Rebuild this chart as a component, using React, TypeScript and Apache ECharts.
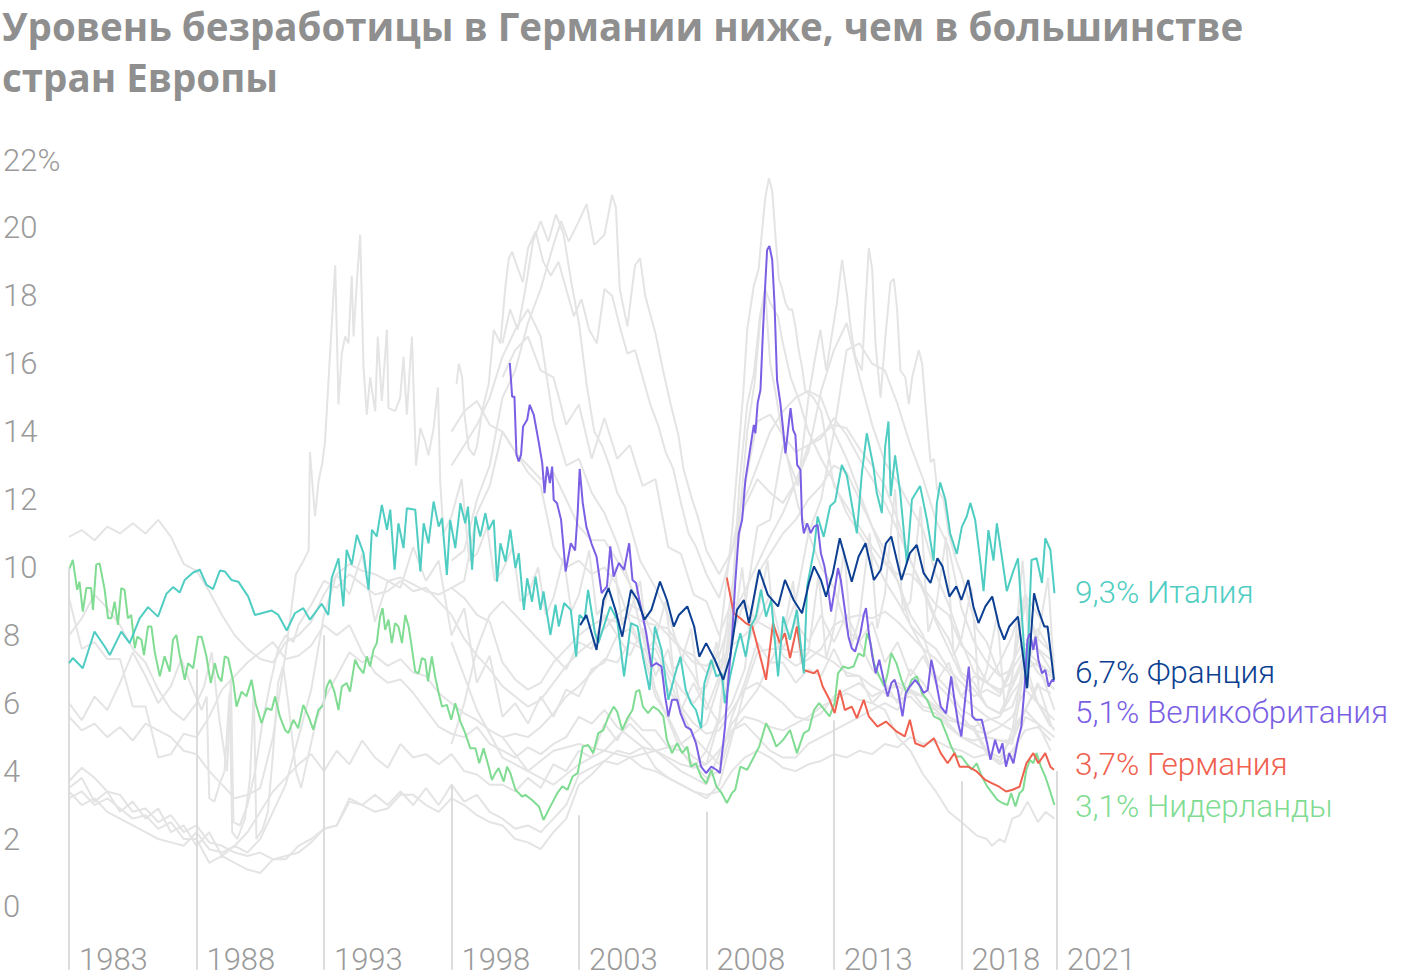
import React, { useEffect, useRef } from 'react';
import * as echarts from 'echarts';

type Pt = [number, number];

const titleLine1 = 'Уровень безработицы в Германии ниже, чем в большинстве';
const titleLine2 = 'стран Европы';
const xTickYears = [1983, 1988, 1993, 1998, 2003, 2008, 2013, 2018, 2021.75];
const xTickLabels = ['1983', '1988', '1993', '1998', '2003', '2008', '2013', '2018', '2021'];
const tickLineTops = [10.0, 7.0, 8.0, 3.6, 2.7, 2.8, 5.5, 3.7, 4.0];
const yMin = -2;
const yMax = 22;

const italy: Pt[] = [[1983.0,7.18],[1983.15,7.33],[1983.54,7.03],[1984.0,8.11],[1984.4,7.67],[1984.6,7.42],[1985.05,8.11],[1985.38,7.77],[1985.77,8.5],[1986.1,8.83],[1986.49,8.55],[1986.82,9.22],[1987.08,9.42],[1987.34,9.26],[1987.54,9.63],[1987.87,9.85],[1988.13,9.93],[1988.39,9.49],[1988.65,9.36],[1988.92,9.91],[1989.11,9.88],[1989.37,9.63],[1989.64,9.58],[1990.03,9.14],[1990.29,8.6],[1990.55,8.65],[1990.95,8.73],[1991.21,8.6],[1991.54,8.14],[1991.86,8.65],[1992.19,8.8],[1992.45,8.46],[1992.91,8.93],[1993.17,8.6],[1993.3,9.68],[1993.57,10.27],[1993.76,8.85],[1993.89,10.52],[1994.09,10.08],[1994.29,10.96],[1994.55,10.42],[1994.75,9.34],[1994.88,11.11],[1995.07,10.91],[1995.27,11.84],[1995.47,11.11],[1995.6,11.7],[1995.77,9.93],[1995.92,11.3],[1996.12,10.57],[1996.25,11.74],[1996.58,11.7],[1996.78,9.88],[1996.91,11.3],[1997.1,10.71],[1997.3,11.94],[1997.5,11.2],[1997.63,11.45],[1997.82,9.78],[1997.95,11.4],[1998.15,10.57],[1998.35,11.89],[1998.54,11.3],[1998.65,11.79],[1998.81,9.93],[1998.94,11.5],[1999.13,10.91],[1999.33,11.6],[1999.46,11.11],[1999.66,11.4],[1999.79,9.58],[1999.92,10.71],[2000.12,10.17],[2000.31,11.11],[2000.51,9.98],[2000.64,10.42],[2000.84,8.75],[2000.97,9.68],[2001.16,8.99],[2001.3,9.73],[2001.49,8.75],[2001.61,9.29],[2001.88,8.01],[2002.08,8.9],[2002.21,8.26],[2002.42,8.95],[2002.68,8.75],[2002.89,7.37],[2003.02,8.6],[2003.22,8.46],[2003.36,9.34],[2003.63,8.06],[2003.76,7.77],[2004.23,8.85],[2004.5,8.46],[2004.77,6.79],[2005.04,8.36],[2005.3,8.26],[2005.51,7.37],[2005.77,6.39],[2005.98,8.26],[2006.24,7.57],[2006.51,6.1],[2006.78,6.88],[2006.98,7.37],[2007.19,6.39],[2007.39,6.0],[2007.59,5.8],[2007.79,5.26],[2007.92,6.59],[2008.19,7.28],[2008.39,6.79],[2008.6,6.88],[2008.73,6.0],[2008.93,6.79],[2009.13,7.47],[2009.33,8.06],[2009.54,7.37],[2009.74,8.26],[2009.94,8.55],[2010.14,9.34],[2010.34,8.55],[2010.54,9.04],[2010.81,6.79],[2011.01,8.55],[2011.28,7.87],[2011.55,8.75],[2011.82,6.88],[2011.95,9.44],[2012.22,10.52],[2012.36,11.5],[2012.6,10.9],[2012.85,11.8],[2013.05,11.94],[2013.31,13.02],[2013.51,12.7],[2013.9,11.0],[2014.1,12.8],[2014.29,13.95],[2014.55,12.97],[2014.68,12.2],[2014.88,11.6],[2015.01,13.56],[2015.14,14.3],[2015.23,12.1],[2015.4,13.3],[2015.6,12.2],[2015.86,10.12],[2016.06,12.0],[2016.38,12.4],[2016.65,11.4],[2016.91,10.2],[2017.04,11.9],[2017.17,12.5],[2017.37,12.0],[2017.56,11.0],[2017.82,10.4],[2018.02,11.2],[2018.21,11.5],[2018.35,11.9],[2018.54,11.4],[2018.74,10.2],[2018.87,9.3],[2019.06,11.1],[2019.26,10.2],[2019.39,11.3],[2019.59,10.3],[2019.78,9.3],[2020.04,9.9],[2020.22,10.27],[2020.42,8.06],[2020.55,6.44],[2020.75,10.22],[2020.95,10.27],[2021.16,9.54],[2021.29,10.86],[2021.49,10.52],[2021.65,9.24]];

const france: Pt[] = [[2003.05,8.3],[2003.29,8.6],[2003.69,7.57],[2003.96,9.04],[2004.16,9.39],[2004.43,8.75],[2004.7,7.96],[2005.04,9.34],[2005.3,9.04],[2005.57,8.46],[2005.84,8.75],[2006.18,9.58],[2006.45,9.04],[2006.72,8.26],[2006.92,8.6],[2007.25,8.85],[2007.52,8.26],[2007.72,7.37],[2007.99,7.77],[2008.33,7.28],[2008.66,6.69],[2008.93,7.37],[2009.2,8.75],[2009.47,9.04],[2009.67,8.36],[2010.07,9.93],[2010.41,9.19],[2010.81,8.85],[2011.08,9.63],[2011.42,9.04],[2011.75,8.65],[2012.02,9.54],[2012.22,10.03],[2012.49,9.63],[2012.69,9.14],[2012.96,9.83],[2013.23,10.86],[2013.43,10.32],[2013.7,9.58],[2013.97,10.32],[2014.24,10.71],[2014.57,9.63],[2014.84,9.93],[2015.04,10.71],[2015.25,10.91],[2015.65,9.63],[2015.98,10.42],[2016.25,10.66],[2016.52,9.83],[2016.79,9.54],[2017.06,10.27],[2017.26,10.03],[2017.53,9.14],[2017.8,9.44],[2018.0,9.04],[2018.27,9.63],[2018.47,8.85],[2018.67,8.36],[2018.94,8.85],[2019.21,9.14],[2019.48,8.26],[2019.68,7.87],[2019.88,8.26],[2020.22,8.55],[2020.42,7.37],[2020.58,6.44],[2020.85,9.24],[2021.02,8.75],[2021.25,8.26],[2021.38,8.26],[2021.63,6.69]];

const uk: Pt[] = [[2000.29,16.02],[2000.38,15.03],[2000.47,15.03],[2000.55,13.32],[2000.64,13.12],[2000.73,13.32],[2000.81,14.15],[2000.97,14.35],[2001.07,14.79],[2001.23,14.49],[2001.43,13.66],[2001.56,13.07],[2001.65,12.19],[2001.75,12.97],[2001.86,12.48],[2001.95,12.97],[2002.01,11.99],[2002.14,11.89],[2002.3,11.4],[2002.48,9.88],[2002.68,10.71],[2002.85,10.5],[2002.95,11.6],[2003.03,12.9],[2003.15,11.9],[2003.29,11.2],[2003.49,10.71],[2003.69,10.32],[2003.89,9.24],[2004.1,9.44],[2004.23,10.62],[2004.36,9.73],[2004.57,10.13],[2004.77,9.93],[2004.97,10.71],[2005.1,9.63],[2005.24,9.54],[2005.37,9.04],[2005.64,8.06],[2005.84,7.08],[2006.04,7.18],[2006.24,7.08],[2006.38,6.2],[2006.51,5.61],[2006.65,6.1],[2006.85,6.1],[2006.98,5.71],[2007.19,5.31],[2007.39,5.22],[2007.59,4.82],[2007.79,4.13],[2007.99,3.94],[2008.19,4.13],[2008.39,4.04],[2008.53,3.94],[2008.73,5.31],[2008.86,6.69],[2009.0,7.87],[2009.13,9.54],[2009.27,11.0],[2009.4,11.4],[2009.53,12.58],[2009.62,13.02],[2009.79,13.86],[2009.86,14.2],[2009.92,13.95],[2010.01,14.84],[2010.12,15.23],[2010.22,17.0],[2010.31,18.37],[2010.38,19.35],[2010.47,19.47],[2010.58,19.06],[2010.67,17.78],[2010.77,15.52],[2010.9,14.84],[2011.01,14.05],[2011.1,13.36],[2011.23,14.25],[2011.3,14.69],[2011.4,14.05],[2011.49,13.9],[2011.56,13.02],[2011.69,12.87],[2011.75,11.4],[2011.82,11.0],[2011.95,11.3],[2012.09,11.01],[2012.22,11.2],[2012.36,11.25],[2012.49,10.42],[2012.63,10.03],[2012.76,9.44],[2012.89,8.7],[2013.03,9.34],[2013.16,9.98],[2013.27,9.63],[2013.43,8.75],[2013.57,7.96],[2013.7,7.62],[2013.83,7.52],[2014.04,8.06],[2014.17,8.6],[2014.26,8.8],[2014.37,8.06],[2014.51,7.37],[2014.64,6.88],[2014.78,7.28],[2014.98,6.59],[2015.11,6.2],[2015.25,6.59],[2015.38,6.69],[2015.51,6.39],[2015.69,5.61],[2015.82,6.3],[2015.98,6.49],[2016.19,6.69],[2016.39,6.49],[2016.52,6.3],[2016.68,6.39],[2016.82,7.28],[2016.99,6.69],[2017.19,5.9],[2017.4,5.7],[2017.6,6.79],[2017.73,6.1],[2017.87,5.41],[2018.0,5.02],[2018.16,6.2],[2018.29,7.08],[2018.43,5.61],[2018.56,5.51],[2018.8,5.51],[2019.01,4.82],[2019.14,4.33],[2019.32,4.92],[2019.48,4.53],[2019.61,4.82],[2019.75,4.13],[2019.88,4.53],[2020.04,4.23],[2020.22,4.92],[2020.35,5.31],[2020.48,6.49],[2020.59,7.87],[2020.69,8.06],[2020.82,7.57],[2020.91,7.96],[2021.02,7.28],[2021.16,6.88],[2021.29,6.98],[2021.42,6.49],[2021.56,6.69],[2021.65,6.64]];

const germany: Pt[] = [[2008.8,9.7],[2009.07,8.65],[2009.33,8.5],[2009.54,8.36],[2009.8,8.26],[2010.01,7.67],[2010.34,6.69],[2010.61,8.36],[2010.88,7.77],[2011.08,8.06],[2011.28,7.33],[2011.55,8.26],[2011.82,6.98],[2012.22,6.88],[2012.36,6.98],[2012.56,6.49],[2012.83,6.1],[2013.03,5.71],[2013.23,6.39],[2013.43,5.8],[2013.7,5.9],[2013.9,5.56],[2014.17,6.1],[2014.37,5.61],[2014.71,5.31],[2015.04,5.46],[2015.45,5.17],[2015.78,5.02],[2015.98,5.51],[2016.19,4.82],[2016.52,4.72],[2016.92,4.97],[2017.19,4.53],[2017.46,4.23],[2017.73,4.53],[2017.93,4.13],[2018.27,4.13],[2018.6,3.99],[2018.94,3.74],[2019.21,3.64],[2019.48,3.54],[2019.75,3.4],[2020.01,3.45],[2020.28,3.54],[2020.55,4.23],[2020.82,4.53],[2021.02,4.23],[2021.29,4.53],[2021.49,4.13],[2021.63,4.04]];

const netherlands: Pt[] = [[1983.0,9.93],[1983.15,10.22],[1983.32,9.34],[1983.41,9.58],[1983.54,8.7],[1983.68,9.39],[1983.87,9.39],[1983.94,8.75],[1984.07,10.08],[1984.2,10.12],[1984.4,9.34],[1984.53,8.5],[1984.66,8.5],[1984.79,8.99],[1984.92,8.31],[1985.05,9.39],[1985.18,9.34],[1985.31,8.5],[1985.44,8.6],[1985.58,7.62],[1985.68,7.96],[1985.84,7.87],[1985.94,7.42],[1986.1,8.26],[1986.23,8.26],[1986.36,7.52],[1986.56,6.79],[1986.75,7.38],[1986.95,6.93],[1987.08,7.87],[1987.21,8.01],[1987.34,7.42],[1987.54,6.69],[1987.67,7.18],[1987.87,7.03],[1988.06,7.96],[1988.2,7.96],[1988.39,7.38],[1988.56,6.59],[1988.72,7.18],[1988.85,6.79],[1988.98,6.64],[1989.11,7.38],[1989.24,7.33],[1989.44,6.64],[1989.57,5.9],[1989.77,6.34],[1989.96,6.2],[1990.16,6.69],[1990.32,6.0],[1990.55,5.41],[1990.75,5.85],[1990.95,5.8],[1991.08,6.2],[1991.27,5.61],[1991.47,5.22],[1991.6,5.12],[1991.8,5.51],[1991.99,5.26],[1992.19,5.95],[1992.39,5.61],[1992.58,5.22],[1992.78,5.8],[1992.98,5.95],[1993.11,6.49],[1993.24,6.69],[1993.41,6.34],[1993.57,5.8],[1993.7,6.49],[1993.89,6.59],[1994.02,6.34],[1994.22,7.28],[1994.35,7.08],[1994.55,6.88],[1994.68,7.38],[1994.81,7.08],[1994.94,7.57],[1995.07,7.77],[1995.2,8.55],[1995.3,8.8],[1995.4,8.16],[1995.53,8.46],[1995.66,7.77],[1995.79,8.36],[1995.92,8.26],[1996.06,7.77],[1996.19,8.6],[1996.32,8.26],[1996.42,7.77],[1996.58,6.93],[1996.71,6.88],[1996.84,7.33],[1996.97,7.28],[1997.08,6.64],[1997.23,7.38],[1997.37,6.74],[1997.5,6.3],[1997.63,5.9],[1997.82,5.95],[1997.99,5.51],[1998.15,6.0],[1998.35,5.46],[1998.54,5.12],[1998.74,4.67],[1998.94,4.67],[1999.09,4.23],[1999.26,4.67],[1999.46,4.13],[1999.59,3.74],[1999.72,3.94],[1999.85,4.09],[2000.05,3.69],[2000.18,4.13],[2000.31,3.94],[2000.51,3.45],[2000.64,3.35],[2000.77,3.25],[2000.9,3.3],[2001.16,3.15],[2001.43,2.96],[2001.61,2.56],[2001.88,2.96],[2002.15,3.35],[2002.35,3.55],[2002.55,3.45],[2002.75,3.84],[2002.95,3.94],[2003.15,4.72],[2003.36,4.77],[2003.56,4.53],[2003.76,5.12],[2003.96,5.21],[2004.16,5.61],[2004.36,5.9],[2004.5,5.75],[2004.7,5.21],[2004.9,5.56],[2005.1,5.8],[2005.24,6.34],[2005.37,6.39],[2005.51,5.9],[2005.71,5.71],[2005.91,5.9],[2006.11,5.8],[2006.31,5.61],[2006.45,4.92],[2006.65,4.53],[2006.85,4.82],[2007.05,4.53],[2007.25,4.72],[2007.39,4.13],[2007.59,4.23],[2007.79,3.84],[2007.99,3.64],[2008.19,4.04],[2008.39,3.55],[2008.6,3.35],[2008.8,3.06],[2009.0,3.35],[2009.13,3.45],[2009.33,4.13],[2009.6,4.04],[2009.87,4.43],[2010.07,4.72],[2010.34,5.41],[2010.54,5.12],[2010.74,4.72],[2011.01,4.92],[2011.28,5.21],[2011.55,4.53],[2011.82,5.12],[2012.02,5.21],[2012.22,5.8],[2012.42,6.0],[2012.63,5.8],[2012.83,5.61],[2013.03,6.0],[2013.16,6.88],[2013.36,7.08],[2013.57,7.03],[2013.77,7.08],[2013.97,7.47],[2014.17,7.38],[2014.3,8.06],[2014.44,7.77],[2014.57,7.18],[2014.78,6.79],[2014.98,6.49],[2015.11,6.88],[2015.25,7.47],[2015.45,7.18],[2015.65,6.69],[2015.85,6.3],[2016.05,6.69],[2016.25,6.79],[2016.45,6.3],[2016.66,6.1],[2016.92,5.61],[2017.19,5.51],[2017.4,5.12],[2017.6,4.72],[2017.8,4.43],[2018.0,4.43],[2018.2,4.23],[2018.4,4.04],[2018.6,4.23],[2018.8,3.84],[2019.01,3.55],[2019.21,3.35],[2019.41,3.15],[2019.61,3.06],[2019.81,3.0],[2019.95,3.35],[2020.12,2.96],[2020.28,3.35],[2020.42,3.45],[2020.55,4.04],[2020.69,4.33],[2020.82,4.23],[2020.95,4.53],[2021.12,4.13],[2021.29,3.84],[2021.42,3.55],[2021.65,3.0]];

// other countries (grey): half-yearly values from a start year, or explicit points
const greyHalfYear: { from: number; values: number[] }[] = [
  { from: 1983, values: [10.9,11.1,10.8,11.2,11.0,11.3,11.0,11.4,10.9,10.1,9.9,9.3,8.6,8.0,7.6,7.3,7.2,7.8,8.0,8.4,9.2,9.8,10.1,9.9,9.8,9.6,9.7,9.5,9.3,9.2,9.4,9.1,8.6,8.4,7.2,6.7,6.4,6.6,7.2,7.6,8.0,8.3,8.5,8.4,8.6,8.4,8.3,8.2,7.6,7.4,6.9,7.2,7.7,8.0,8.4,8.2,7.4,7.1,7.3,7.6,8.3,8.5,8.6,8.5,8.7,8.4,8.0,7.6,7.3,6.9,6.2,5.9,5.6,5.4,5.2,5.8,6.5,6.3] },
  { from: 1983, values: [9.1,7.6,7.8,7.3,7.3,5.9,5.9,4.4,4.5,5.1,5.0,5.6,6.4,6.8,7.2,7.5,7.8,7.3,7.4,7.7,8.3,8.0,8.3,7.5,6.9,6.6,6.7,6.3,5.8,5.3,5.1,5.0,5.3,4.8,4.6,4.4,4.7,4.5,4.8,5.0,5.6,5.4,5.8,5.3,5.0,4.7,4.1,3.8,3.6,3.4,3.2,3.6,5.0,6.4,7.5,7.6,7.6,7.5,7.6,7.4,7.2,6.9,6.8,6.5,6.3,6.1,6.2,5.8,5.7,5.3,5.0,4.9,5.0,4.9,4.9,5.8,5.4,4.6] },
  { from: 1983, values: [3.7,4.1,3.8,3.4,3.3,2.8,2.9,2.5,2.7,2.2,2.4,1.9,1.8,1.6,1.5,1.6,1.4,1.5,1.6,1.9,2.3,2.4,3.1,3.0,2.8,2.9,3.3,3.3,3.0,2.8,3.2,3.0,2.7,2.5,2.4,2.0,1.9,1.7,2.2,2.6,3.6,3.9,4.3,4.6,4.5,4.7,4.6,4.4,4.2,4.1,4.2,4.6,5.2,5.6,5.5,5.3,5.2,5.4,5.6,5.9,6.1,6.3,6.1,6.0,6.4,6.5,6.3,6.2,5.8,5.5,5.4,5.3,5.5,5.6,6.3,6.8,6.0,5.3] },
  { from: 1983, values: [3.2,3.4,3.0,3.2,2.9,2.6,2.7,2.3,2.5,2.0,2.0,1.3,1.5,1.3,1.1,1.0,1.4,1.4,1.8,2.0,2.3,2.4,3.2,3.0,3.3,3.0,3.4,3.0,3.5,3.0,3.6,3.1,3.3,2.8,2.6,2.3,2.4,2.2,2.6,3.0,3.9,4.1,4.3,4.2,4.4,4.1,4.0,3.8,3.6,3.4,3.3,3.4,4.0,4.4,4.6,4.4,4.1,4.0,4.2,4.3,4.5,4.4,4.6,4.5,4.8,4.7,5.0,4.8,4.9,4.7,4.6,4.4,4.5,4.3,4.6,5.2,5.3,4.9] },
  { from: 1983, values: [3.5,3.8,3.1,3.4,2.8,3.1,2.6,2.9,2.2,2.4,1.8,2.2,1.5,1.8,1.6,2.0,2.8,3.6,5.0,6.4,8.6,9.8,9.2,10.4,8.4,9.6,9.4,10.6,9.6,10.2,8.0,8.8,6.6,7.4,5.6,6.0,5.4,6.2,5.6,6.4,6.2,7.0,7.2,8.0,7.4,8.2,6.8,7.6,5.8,6.6,5.8,6.8,8.0,9.0,8.4,9.2,7.6,8.4,7.8,8.6,7.8,8.6,7.8,8.4,7.2,7.8,6.8,7.4,6.6,7.2,6.2,6.8,6.6,7.2,8.0,9.2,8.6,8.0] },
  { from: 1983, values: [3.4,3.0,3.2,2.8,2.6,2.4,2.2,2.0,1.9,1.8,2.2,1.7,1.6,1.8,2.2,2.8,3.4,3.8,4.2,4.5,4.0,4.6,4.2,4.9,4.4,4.1,4.8,4.4,4.5,4.2,4.5,4.0,3.9,3.6,3.6,3.4,3.8,3.5,4.2,4.0,4.6,4.4,5.4,4.9,5.6,5.2,5.2,4.7,4.6,4.2,3.8,4.0,5.2,5.4,5.0,4.6,4.4,4.4,4.8,5.0,5.2,5.4,5.6,5.8,6.0,5.8,6.4,5.9,5.8,5.4,5.0,4.8,4.6,4.4,5.0,5.8,6.6,5.4] },
];

const greyPoints: Pt[][] = [
  [[1983,6.0],[1983.5,5.5],[1984,6.2],[1984.5,5.8],[1985,6.6],[1985.5,7.5],[1986,6.8],[1986.5,6.0],[1987,6.5],[1987.4,7.3],[1987.8,6.5],[1988.2,5.8],[1988.4,6.2],[1988.5,3.2],[1988.7,3.1],[1988.9,3.6],[1989.1,4.0],[1989.3,6.3],[1989.4,2.2],[1989.6,2.0],[1989.9,2.6],[1990.1,3.8],[1990.25,6.4],[1990.35,2.0],[1990.6,2.3],[1990.8,2.8],[1991,4.5],[1991.2,6.6],[1991.4,7.1],[1991.6,6.0],[1991.9,4.0],[1992.1,3.5],[1992.4,4.5],[1992.7,5.5],[1993,6.1],[1993.5,6.8],[1994,7.5],[1994.5,7.2],[1995,7.4],[1995.5,7.1],[1996,7.3],[1996.5,6.9],[1997,6.8],[1997.5,6.3],[1998,6.0],[1998.5,5.7],[1999,5.5],[1999.5,5.2],[2000,5.0],[2000.5,5.1],[2001,5.0],[2001.5,5.3],[2002,5.7],[2002.5,6.2],[2003,6.5],[2003.5,6.9],[2004,7.3],[2004.5,7.2],[2005,7.8],[2005.5,7.6],[2006,7.3],[2006.5,6.4],[2007,5.9],[2007.5,5.4],[2008,5.1],[2008.5,5.2],[2009,5.8],[2009.5,6.4],[2010,6.6],[2010.5,6.3],[2011,6.0],[2011.5,5.6],[2012,5.5],[2012.5,5.7],[2013,6.2],[2013.5,6.4],[2014,6.6],[2014.5,6.2],[2015,6.4],[2015.5,6.6],[2016,6.4],[2016.5,6.2],[2017,5.9],[2017.5,5.6],[2018,5.4],[2018.5,5.2],[2019,5.1],[2019.5,5.3],[2020,5.6],[2020.5,6.4],[2021,6.0],[2021.65,5.5]],
  [[1983,8.0],[1983.5,8.5],[1984,9.2],[1984.5,8.8],[1985,8.3],[1985.5,7.6],[1986,7.2],[1986.5,6.4],[1987,5.8],[1987.5,5.5],[1988,6.0],[1988.3,6.5],[1988.6,7.5],[1988.9,5.5],[1989.2,4.0],[1989.35,6.7],[1989.45,2.5],[1989.7,2.4],[1990,3.0],[1990.3,4.0],[1990.6,5.5],[1990.9,6.6],[1991.2,7.6],[1991.5,8.0],[1991.8,7.8],[1992,8.3],[1992.5,8.9],[1993,9.6],[1993.5,9.4],[1994,9.8],[1994.5,9.5],[1995,9.2],[1995.5,9.3],[1996,9.6],[1996.5,9.3],[1997,9.4],[1997.5,9.0],[1998,8.6],[1998.5,7.9],[1999,7.4],[1999.5,7.0],[2000,6.5],[2000.5,6.2],[2001,5.9],[2001.5,6.1],[2002,6.6],[2002.5,7.1],[2003,7.5],[2003.5,7.8],[2004,8.2],[2004.5,8.6],[2005,8.9],[2005.5,8.7],[2006,8.4],[2006.5,8.0],[2007,7.6],[2007.5,7.2],[2008,7.1],[2008.5,7.4],[2009,8.6],[2009.5,9.3],[2010,10.1],[2010.5,10.9],[2011,11.6],[2011.5,12.5],[2012,13.4],[2012.5,15.2],[2013,16.4],[2013.5,17.2],[2014,15.6],[2014.5,14.2],[2015,13.1],[2015.5,12.5],[2016,11.8],[2016.5,11.1],[2017,9.8],[2017.5,8.9],[2018,7.8],[2018.5,6.9],[2019,6.6],[2019.5,6.4],[2020,6.6],[2020.5,7.5],[2021,6.9],[2021.65,6.4]],
  [[1983,5.6],[1983.5,5.2],[1984,5.4],[1984.5,5.0],[1985,5.3],[1985.5,4.9],[1986,5.4],[1986.5,5.2],[1987,5.0],[1987.5,4.6],[1988,4.5],[1988.5,4.0],[1989,3.6],[1989.5,3.2],[1990,3.3],[1990.5,3.5],[1991,5.0],[1991.5,7.5],[1991.9,9.8],[1992.2,10.2],[1992.4,10.5],[1992.45,13.4],[1992.65,11.5],[1992.78,12.5],[1992.94,13.1],[1993.04,13.7],[1993.17,15.4],[1993.44,18.9],[1993.57,14.8],[1993.7,16.3],[1993.83,16.8],[1993.96,16.6],[1994.09,18.6],[1994.16,16.8],[1994.29,18.4],[1994.42,19.8],[1994.55,15.9],[1994.68,14.5],[1994.81,15.6],[1995.01,14.6],[1995.11,16.8],[1995.27,14.9],[1995.47,17.0],[1995.53,14.7],[1995.79,14.6],[1995.99,15.0],[1996.12,16.2],[1996.25,14.5],[1996.45,16.8],[1996.61,13.0],[1996.78,14.1],[1996.97,13.7],[1997.1,13.3],[1997.3,14.1],[1997.47,15.3],[1997.56,12.5],[1997.69,11.0],[1998,11.5],[1998.4,12.6],[1998.7,10.2],[1999,10.4],[1999.4,11.2],[1999.7,9.6],[2000,9.9],[2000.4,10.6],[2000.7,9.0],[2001,9.2],[2001.4,10.0],[2001.7,8.6],[2002,9.1],[2002.4,10.3],[2002.7,8.7],[2003,9.2],[2003.4,10.5],[2003.7,8.6],[2004,8.9],[2004.4,10.0],[2004.7,8.3],[2005,8.7],[2005.4,9.6],[2005.7,7.6],[2006,7.9],[2006.4,9.0],[2006.7,7.0],[2007,7.2],[2007.4,8.2],[2007.7,6.4],[2008,6.5],[2008.4,7.8],[2008.7,6.0],[2009,7.8],[2009.4,10.0],[2009.7,7.9],[2010,8.6],[2010.4,10.2],[2010.7,7.8],[2011,7.9],[2011.4,9.6],[2011.7,7.2],[2012,7.5],[2012.4,9.8],[2012.7,7.3],[2013,8.2],[2013.4,10.5],[2013.7,7.7],[2014,8.5],[2014.4,11.0],[2014.7,8.2],[2015,9.2],[2015.4,12.3],[2015.7,8.7],[2016,9.0],[2016.4,11.8],[2016.7,8.1],[2017,8.8],[2017.4,10.9],[2017.7,7.4],[2018,7.9],[2018.4,9.4],[2018.7,6.2],[2019,7.0],[2019.4,8.6],[2019.7,5.9],[2020,6.8],[2020.4,10.2],[2020.7,7.4],[2021,7.9],[2021.4,9.7],[2021.65,6.7]],
  [[1998,10.2],[1998.5,10.5],[1999,12.0],[1999.5,13.0],[2000,15.0],[2000.5,15.8],[2001,17.2],[2001.5,18.2],[2002,19.5],[2002.3,20.2],[2002.6,19.6],[2003,20.2],[2003.3,20.7],[2003.6,19.5],[2004,19.8],[2004.3,20.97],[2004.45,20.6],[2004.6,18.2],[2004.9,17.1],[2005.2,18.9],[2005.4,19.1],[2005.6,18.0],[2006,16.9],[2006.3,15.8],[2006.6,14.8],[2006.9,13.9],[2007.1,12.9],[2007.4,12.1],[2007.7,11.4],[2008,10.5],[2008.5,9.8],[2009,10.5],[2009.5,11.8],[2010,12.6],[2010.5,12.2],[2011,11.9],[2011.5,12.5],[2012,13.6],[2012.5,13.8],[2013,14.4],[2013.5,13.9],[2014,13.2],[2014.5,12.6],[2015,11.9],[2015.5,11.1],[2016,10.2],[2016.5,9.3],[2017,8.4],[2017.5,7.6],[2018,6.8],[2018.5,6.4],[2019,5.9],[2019.5,5.7],[2020,6.5],[2020.5,7.3],[2021,7.1],[2021.65,6.7]],
  [[1998.2,15.4],[1998.29,16.0],[1998.42,15.6],[1998.51,14.5],[1998.68,13.5],[1998.88,13.3],[1999.01,13.6],[1999.2,14.6],[1999.46,15.4],[1999.66,17.0],[1999.92,16.6],[2000.12,18.3],[2000.25,19.1],[2000.38,19.3],[2000.51,19.0],[2000.8,18.4],[2001,19.4],[2001.3,19.9],[2001.6,19.0],[2001.9,18.6],[2002.2,19.0],[2002.5,18.2],[2002.8,17.4],[2003.1,17.9],[2003.4,17.0],[2003.7,16.6],[2004,18.2],[2004.3,18.0],[2004.6,17.1],[2004.9,16.3],[2005.2,16.4],[2005.5,15.6],[2005.8,14.8],[2006.1,14.2],[2006.4,13.4],[2006.7,12.9],[2007,11.9],[2007.3,11.0],[2007.6,10.6],[2008,9.8],[2008.5,9.1],[2009,10.5],[2009.5,12.4],[2010,14.3],[2010.5,14.5],[2011,13.9],[2011.5,13.4],[2012,13.6],[2012.5,13.9],[2013,14.2],[2013.5,14.1],[2014,13.5],[2014.5,13.0],[2015,12.4],[2015.5,11.4],[2016,10.2],[2016.5,9.4],[2017,8.5],[2017.5,7.9],[2018,6.9],[2018.5,6.6],[2019,5.9],[2019.5,5.7],[2020,5.9],[2020.5,7.0],[2021,7.2],[2021.65,6.8]],
  [[2000,16.6],[2000.3,17.6],[2000.6,17.0],[2000.9,18.2],[2001.2,19.6],[2001.5,20.2],[2001.8,19.6],[2002.1,20.4],[2002.4,19.8],[2002.7,18.4],[2003,17.2],[2003.3,15.4],[2003.6,14.0],[2003.9,13.6],[2004.2,13.0],[2004.5,12.2],[2004.8,11.8],[2005.1,11.0],[2005.4,10.2],[2005.7,9.8],[2006,9.4],[2006.5,8.6],[2007,7.4],[2007.5,6.8],[2008,6.0],[2008.5,5.4],[2009,6.0],[2009.5,7.0],[2010,9.8],[2010.5,10.4],[2011,11.0],[2011.5,11.4],[2012,12.0],[2012.5,12.4],[2013,13.0],[2013.5,12.8],[2014,12.0],[2014.5,11.2],[2015,10.5],[2015.5,9.6],[2016,8.3],[2016.5,7.6],[2017,6.6],[2017.5,6.2],[2018,5.6],[2018.5,5.2],[2019,4.5],[2019.5,4.2],[2020,4.4],[2020.5,5.6],[2021,5.4],[2021.65,5.0]],
  [[1998,13.0],[1998.5,13.6],[1999,14.2],[1999.5,15.0],[2000,16.2],[2000.5,17.0],[2001,17.6],[2001.5,16.8],[2002,14.3],[2002.5,13.0],[2003,13.2],[2003.5,12.2],[2004,11.6],[2004.5,10.7],[2005,9.5],[2005.5,8.0],[2006,6.4],[2006.5,5.5],[2007,4.6],[2007.5,4.1],[2008,4.6],[2008.5,5.6],[2009,9.0],[2009.3,12.5],[2009.6,14.8],[2009.86,15.7],[2010.1,17.4],[2010.3,18.2],[2010.5,17.8],[2010.8,17.4],[2011,16.6],[2011.3,15.6],[2011.6,15.0],[2012,14.0],[2012.5,13.2],[2013,12.5],[2013.5,11.6],[2014,11.0],[2014.5,10.4],[2015,9.6],[2015.5,9.0],[2016,8.3],[2016.5,7.9],[2017,7.6],[2017.5,7.0],[2018,6.6],[2018.5,6.2],[2019,6.4],[2019.5,6.2],[2020,7.0],[2020.5,9.2],[2021,7.6],[2021.65,6.8]],
  [[1998,14.0],[1998.5,14.6],[1999,14.9],[1999.5,14.2],[2000,14.0],[2000.5,13.4],[2001,13.0],[2001.5,12.6],[2002,12.8],[2002.5,12.0],[2003,11.2],[2003.5,10.8],[2004,10.8],[2004.5,10.2],[2005,9.5],[2005.5,8.7],[2006,7.8],[2006.5,7.0],[2007,6.4],[2007.5,6.0],[2008,6.5],[2008.5,7.7],[2009,11.0],[2009.46,15.3],[2009.6,17.0],[2009.86,18.3],[2010.05,18.8],[2010.18,19.9],[2010.31,20.9],[2010.45,21.46],[2010.58,21.1],[2010.71,19.75],[2010.84,18.5],[2010.97,18.2],[2011.1,17.8],[2011.23,17.6],[2011.36,17.6],[2011.49,17.1],[2011.62,16.4],[2011.75,15.9],[2011.88,15.2],[2012.2,15.0],[2012.5,14.6],[2013,12.4],[2013.5,11.8],[2014,11.2],[2014.5,10.6],[2015,10.1],[2015.5,9.8],[2016,9.8],[2016.5,9.4],[2017,8.9],[2017.5,8.6],[2018,7.7],[2018.5,7.3],[2019,6.6],[2019.5,6.3],[2020,7.0],[2020.5,8.9],[2021,7.9],[2021.65,7.4]],
  [[1998,9.4],[1998.5,9.6],[1999,11.6],[1999.5,12.4],[2000,14.0],[2000.5,13.4],[2001,12.8],[2001.5,12.4],[2002,10.6],[2002.5,10.0],[2003,10.2],[2003.5,9.8],[2004,10.0],[2004.5,9.5],[2005,8.4],[2005.5,7.6],[2006,6.2],[2006.5,5.6],[2007,4.8],[2007.5,4.4],[2008,4.2],[2008.5,5.5],[2009,8.5],[2009.3,11.5],[2009.6,14.0],[2009.9,15.5],[2010.1,17.2],[2010.3,18.2],[2010.5,16.0],[2010.7,15.2],[2011,13.8],[2011.3,12.8],[2011.6,11.8],[2012,11.0],[2012.5,10.0],[2013,9.4],[2013.5,8.2],[2014,7.8],[2014.5,7.0],[2015,6.6],[2015.5,6.0],[2016,7.0],[2016.5,6.6],[2017,6.0],[2017.5,5.6],[2018,5.4],[2018.5,5.3],[2019,4.6],[2019.5,4.2],[2020,5.2],[2020.5,7.6],[2021,7.2],[2021.65,5.8]],
  [[2000,15.6],[2000.5,16.4],[2001,16.8],[2001.5,15.8],[2002,15.6],[2002.5,14.2],[2003,14.8],[2003.5,13.2],[2004,14.4],[2004.5,13.2],[2005,13.6],[2005.5,12.4],[2006,12.6],[2006.5,10.6],[2007,10.4],[2007.5,9.2],[2008,9.0],[2008.5,8.0],[2009,9.0],[2009.5,8.8],[2010,11.2],[2010.5,11.4],[2011,13.6],[2011.3,13.0],[2011.6,12.4],[2012,15.0],[2012.27,16.2],[2012.47,17.0],[2012.7,15.8],[2013.12,17.8],[2013.32,19.06],[2013.52,18.0],[2013.65,17.1],[2013.84,16.2],[2014.1,15.8],[2014.24,17.8],[2014.37,19.4],[2014.5,18.8],[2014.63,16.6],[2014.83,15.0],[2015.02,16.8],[2015.22,18.4],[2015.35,18.5],[2015.48,17.6],[2015.61,15.8],[2015.8,15.6],[2015.94,14.8],[2016.07,15.6],[2016.2,16.0],[2016.33,16.4],[2016.46,16.0],[2016.59,14.8],[2016.79,13.1],[2016.92,13.2],[2017.05,12.3],[2017.3,12.0],[2017.5,11.0],[2017.8,10.2],[2018,9.8],[2018.3,9.0],[2018.6,8.2],[2019,7.8],[2019.4,7.0],[2019.7,6.6],[2020,7.2],[2020.4,7.8],[2020.7,7.6],[2021,8.2],[2021.3,7.8],[2021.65,7.2]],
  [[2000,5.0],[2001,4.0],[2002,3.6],[2003,4.2],[2004,4.6],[2005,5.4],[2006,4.6],[2007,4.0],[2008,3.6],[2009,5.4],[2010,6.4],[2011,8.0],[2011.5,9.0],[2012,11.0],[2012.5,12.0],[2013,14.0],[2013.5,16.4],[2014,16.6],[2014.5,16.0],[2015,15.8],[2015.5,14.8],[2016,13.6],[2016.5,12.6],[2017,11.4],[2017.5,10.6],[2018,8.8],[2018.5,7.8],[2019,7.2],[2019.5,6.8],[2020,7.0],[2020.5,7.6],[2021,7.6],[2021.65,7.2]],
  [[1998,7.8],[1999,5.8],[2000,4.4],[2001,4.0],[2002,4.6],[2003,4.8],[2004,4.6],[2005,4.4],[2006,4.6],[2007,4.8],[2008,5.4],[2008.5,6.6],[2009,9.4],[2009.5,12.0],[2010,13.0],[2010.5,14.0],[2011,14.6],[2011.5,15.0],[2012,15.2],[2012.5,15.0],[2013,14.0],[2013.5,13.2],[2014,12.2],[2014.5,11.2],[2015,10.2],[2015.5,9.6],[2016,8.6],[2016.5,8.0],[2017,6.8],[2017.5,6.4],[2018,5.8],[2018.5,5.6],[2019,5.0],[2019.5,4.9],[2020,4.8],[2020.5,7.2],[2021,6.0],[2021.65,5.2]],
  [[1998,4.8],[1998.5,6.0],[1999,7.6],[1999.5,8.6],[2000,9.0],[2000.5,8.6],[2001,8.2],[2001.5,7.8],[2002,7.4],[2002.5,7.0],[2003,7.8],[2003.5,7.6],[2004,8.6],[2004.5,8.0],[2005,8.2],[2005.5,7.6],[2006,7.6],[2006.5,6.8],[2007,5.8],[2007.5,5.0],[2008,4.6],[2008.5,4.2],[2009,5.6],[2009.5,6.6],[2010,7.8],[2010.5,7.2],[2011,7.2],[2011.5,6.6],[2012,7.0],[2012.5,6.8],[2013,7.6],[2013.5,6.8],[2014,6.8],[2014.5,6.0],[2015,5.8],[2015.5,5.0],[2016,4.6],[2016.5,3.9],[2017,3.4],[2017.5,2.8],[2018,2.5],[2018.3,2.3],[2018.6,2.1],[2019,2.0],[2019.2,1.8],[2019.5,2.0],[2019.7,1.9],[2020,2.6],[2020.3,2.7],[2020.6,3.1],[2021,2.5],[2021.3,2.8],[2021.65,2.6]],
];

const endLabels = [
  { text: '9,3% Италия', color: '#4fcdc2', top: 592 },
  { text: '6,7% Франция', color: '#0c3f91', top: 672 },
  { text: '5,1% Великобритания', color: '#7a5fe4', top: 712 },
  { text: '3,7% Германия', color: '#f0604e', top: 764 },
  { text: '3,1% Нидерланды', color: '#80dc92', top: 806 },
];

const highlighted = [
  { name: 'Нидерланды', data: netherlands, color: '#80dc92' },
  { name: 'Германия', data: germany, color: '#f0604e' },
  { name: 'Италия', data: italy, color: '#4fcdc2' },
  { name: 'Великобритания', data: uk, color: '#7a5fe4' },
  { name: 'Франция', data: france, color: '#0c3f91' },
];

const FONT = 'Roboto, "Noto Sans", sans-serif';
const TITLE_FONT = '"Open Sans", "Noto Sans", sans-serif';

export default function App() {
  const ref = useRef<HTMLDivElement>(null);
  useEffect(() => {
    if (!ref.current) return;
    const chart = echarts.init(ref.current, null, { renderer: 'svg' });
    const greys: Pt[][] = [
      ...greyHalfYear.map((g) => g.values.map((v, i) => [g.from + i * 0.5, v] as Pt)),
      ...greyPoints,
    ];
    const series: any[] = [
      {
        type: 'line',
        data: [],
        silent: true,
        z: 1,
        markLine: {
          silent: true,
          symbol: ['none', 'none'],
          label: { show: false },
          lineStyle: { type: 'solid', color: '#dcdcdc', width: 2 },
          data: xTickYears.map((yr, i) => [
            { coord: [yr, -1.85] },
            { coord: [yr, tickLineTops[i]] },
          ]),
        },
      },
      ...greys.map((g) => ({
        type: 'line',
        data: g,
        showSymbol: false,
        silent: true,
        z: 2,
        lineStyle: { color: '#e4e4e4', width: 2 },
      })),
      ...highlighted.map((h, i) => ({
        type: 'line',
        name: h.name,
        data: h.data,
        showSymbol: false,
        silent: true,
        z: 3 + i,
        lineStyle: { color: h.color, width: 2 },
      })),
    ];
    const titleStyle = {
      fontFamily: TITLE_FONT,
      fontWeight: 'bold',
      fontSize: 38.5,
      lineHeight: 45,
      color: '#8f8f8f',
    };
    chart.setOption({
      animation: false,
      backgroundColor: '#ffffff',
      title: {
        text: titleLine1,
        subtext: titleLine2,
        left: 2,
        top: 3,
        padding: 0,
        itemGap: 6,
        textStyle: titleStyle,
        subtextStyle: titleStyle,
      },
      grid: { left: 68, right: 345, top: 160, bottom: 980 - (160 + 24 * 33.95) },
      xAxis: {
        type: 'value',
        min: 1983,
        max: 2021.75,
        axisLine: { show: false },
        axisTick: { show: false },
        splitLine: { show: false },
        axisLabel: {
          customValues: xTickYears,
          formatter: (v: number) => xTickLabels[xTickYears.indexOf(v)] ?? '',
          inside: true,
          margin: 0,
          align: 'left',
          verticalAlign: 'bottom',
          padding: [0, 0, 0, 10],
          fontFamily: FONT,
          fontWeight: 300,
          fontSize: 31,
          color: '#9a9a9a',
        },
      },
      yAxis: {
        type: 'value',
        min: yMin,
        max: yMax,
        interval: 2,
        axisLine: { show: false },
        axisTick: { show: false },
        splitLine: { show: false },
        axisLabel: {
          formatter: (v: number) => (v < 0 ? '' : v === yMax ? `${v}%` : String(v)),
          align: 'left',
          margin: 66,
          fontFamily: FONT,
          fontWeight: 300,
          fontSize: 31,
          color: '#9a9a9a',
        },
      },
      graphic: endLabels.map((l) => ({
        type: 'text',
        x: 1075,
        y: l.top,
        silent: true,
        style: {
          text: l.text,
          fill: l.color,
          fontFamily: FONT,
          fontWeight: 300,
          fontSize: 31.5,
          verticalAlign: 'middle',
        },
      })),
      series,
    });
    return () => chart.dispose();
  }, []);
  return (
    <div
      ref={ref}
      style={{ position: 'absolute', left: 0, top: 0, width: 1402, height: 980, background: '#fff' }}
    />
  );
}
